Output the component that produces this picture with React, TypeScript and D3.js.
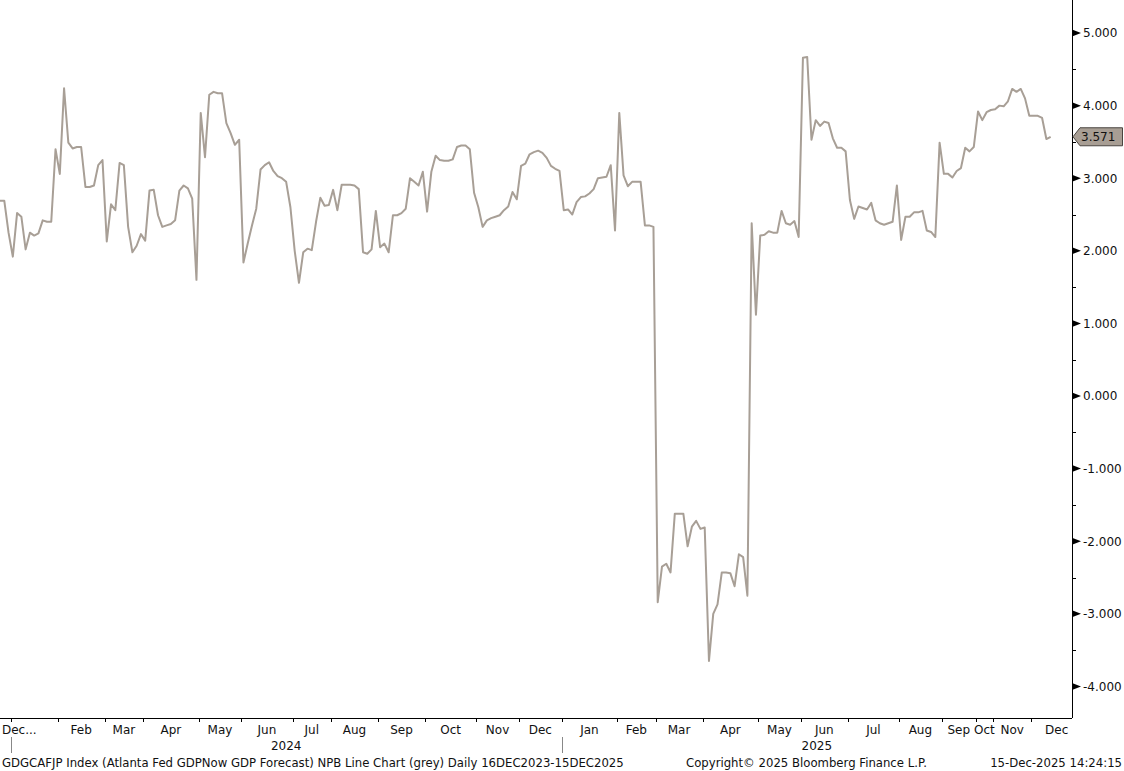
import React from "react";
import * as d3 from "d3";

const gdpNow = [
  2.69, 2.69, 2.25, 1.92, 2.52, 2.47, 2.02, 2.25, 2.21, 2.24,
  2.42, 2.4, 2.4, 3.4, 3.06, 4.24, 3.49, 3.41, 3.43, 3.43,
  2.88, 2.88, 2.9, 3.18, 3.25, 2.13, 2.64, 2.56, 3.21, 3.18,
  2.33, 1.98, 2.07, 2.23, 2.14, 2.83, 2.84, 2.49, 2.33, 2.35,
  2.37, 2.42, 2.83, 2.9, 2.86, 2.72, 1.6, 3.9, 3.29, 4.15,
  4.19, 4.17, 4.17, 3.76, 3.62, 3.46, 3.53, 1.84, 2.1, 2.35,
  2.58, 3.12, 3.18, 3.22, 3.1, 3.03, 3.0, 2.95, 2.6, 2.0,
  1.56, 1.98, 2.03, 2.01, 2.4, 2.73, 2.62, 2.63, 2.84, 2.56,
  2.91, 2.91, 2.91, 2.9, 2.85, 1.98, 1.96, 2.02, 2.55, 2.05,
  2.1, 1.98, 2.49, 2.49, 2.52, 2.58, 3.0, 2.95, 2.9, 3.09,
  2.54, 3.09, 3.31, 3.25, 3.24, 3.24, 3.26, 3.43, 3.45, 3.45,
  3.4, 2.8, 2.6, 2.33, 2.42, 2.45, 2.47, 2.49, 2.56, 2.61,
  2.81, 2.71, 3.17, 3.2, 3.33, 3.36, 3.38, 3.35, 3.28, 3.17,
  3.13, 3.1, 2.56, 2.57, 2.5, 2.67, 2.74, 2.75, 2.79, 2.85,
  3.0, 3.01, 3.02, 3.18, 2.28, 3.9, 3.04, 2.89, 2.95, 2.95,
  2.95, 2.35, 2.35, 2.33, -2.84, -2.35, -2.31, -2.43, -1.62, -1.62,
  -1.62, -2.07, -1.8, -1.72, -1.83, -1.81, -3.65, -3.0, -2.87, -2.43,
  -2.43, -2.44, -2.62, -2.18, -2.22, -2.75, 2.38, 1.12, 2.21, 2.22,
  2.27, 2.25, 2.25, 2.55, 2.38, 2.36, 2.41, 2.19, 4.66, 4.67,
  3.53, 3.8, 3.72, 3.78, 3.76, 3.55, 3.42, 3.42, 3.37, 2.7,
  2.44, 2.61, 2.59, 2.57, 2.66, 2.42, 2.38, 2.36, 2.38, 2.4,
  2.9, 2.15, 2.47, 2.47, 2.53, 2.53, 2.55, 2.28, 2.26, 2.19,
  3.49, 3.06, 3.06, 3.01, 3.1, 3.14, 3.42, 3.37, 3.43, 3.92,
  3.8, 3.91, 3.94, 3.95, 4.0, 3.99, 4.06, 4.23, 4.19, 4.23,
  4.1, 3.86, 3.86, 3.86, 3.83, 3.54, 3.571,
];

// first observation index of each month
const monthLabels = ["Dec...", "", "Feb", "Mar", "Apr", "May", "Jun", "Jul", "Aug", "Sep", "Oct", "Nov", "Dec",
  "Jan", "Feb", "Mar", "Apr", "May", "Jun", "Jul", "Aug", "Sep", "Oct", "Nov", "Dec"];
const monthStarts = [0, 3, 14, 25, 34, 47, 57, 69, 78, 89, 100, 112, 122,
  132, 145, 154, 165, 178, 188, 199, 211, 221, 229, 233, 242];

const yearLabels = ["2024", "2025"];
const yearStarts = [3, 132];

const yTicks = [5, 4, 3, 2, 1, 0, -1, -2, -3, -4];
const yMinor = [4.5, 3.5, 2.5, 1.5, 0.5, -0.5, -1.5, -2.5, -3.5];

const footerLeft = "GDGCAFJP Index (Atlanta Fed GDPNow GDP Forecast) NPB Line Chart (grey) Daily 16DEC2023-15DEC2025";
const footerMid = "Copyright\u00a9 2025 Bloomberg Finance L.P.";
const footerRight = "15-Dec-2025 14:24:15";

const W = 1124;
const H = 771;
const axisX = 1072;
const axisY = 718;
const slotCount = 251;

const lineColor = "#a89f96";
const font = "'DejaVu Sans', Verdana, sans-serif";

export default function App() {
  const x = d3.scaleLinear().domain([0, slotCount]).range([0, axisX]);
  const y = d3.scaleLinear().domain([-4.435, 5.455]).range([axisY, 0]);
  const fmt = (v: number) => d3.format(".3f")(v).replace("\u2212", "-");

  const line = d3.line<number>()
    .x((_, i) => x(i))
    .y(d => y(d));

  const last = gdpNow[gdpNow.length - 1];
  const ly = y(last);

  const tickX = (s: number) => x(s - 0.5);

  return (
    <svg width={W} height={H} style={{ position: "absolute", left: 0, top: 0, background: "#fff" }}
      fontFamily={font}>
      <rect x={0} y={0} width={W} height={H} fill="#fff" />

      <path d={line(gdpNow) || ""} fill="none" stroke={lineColor} strokeWidth={2} strokeLinejoin="round" />

      {/* right axis */}
      <line x1={axisX + 0.5} x2={axisX + 0.5} y1={0} y2={axisY} stroke="#000" strokeWidth={1} />
      {yMinor.map(v => (
        <line key={"m" + v} x1={axisX} x2={axisX + 4} y1={Math.round(y(v)) + 0.5} y2={Math.round(y(v)) + 0.5}
          stroke="#000" strokeWidth={1} />
      ))}
      {yTicks.map(v => (
        <g key={"t" + v} transform={`translate(0,${y(v)})`}>
          <path d={`M${axisX},-3.5L${axisX + 9},0L${axisX},3.5Z`} fill="#000" />
          <text x={axisX + 11} dy="0.36em" fontSize={12} fill="#111">{fmt(v)}</text>
        </g>
      ))}

      {/* last value callout */}
      <path d={`M${axisX + 1},${ly}L${axisX + 8},${ly - 9}L${W - 1.5},${ly - 9}L${W - 1.5},${ly + 9}L${axisX + 8},${ly + 9}Z`}
        fill="#a89e94" stroke="#4a4540" strokeWidth={1} />
      <text x={axisX + 9} y={ly} dy="0.36em" fontSize={12} fill="#111">{fmt(last)}</text>

      {/* bottom axis */}
      <line x1={0} x2={axisX} y1={axisY + 0.5} y2={axisY + 0.5} stroke="#000" strokeWidth={1} />
      {monthStarts.map((s, i) => {
        if (s === 0) return null;
        const tx = Math.round(tickX(s)) + 0.5;
        return <line key={"mt" + i} x1={tx} x2={tx} y1={axisY} y2={axisY + 4} stroke="#000" />;
      })}
      {monthLabels.map((lab, i) => {
        if (!lab) return null;
        if (i === 0) {
          return <text key={"ml" + i} x={2} y={734} fontSize={12} fill="#111">{lab}</text>;
        }
        const a = tickX(monthStarts[i]);
        const b = i + 1 < monthStarts.length ? tickX(monthStarts[i + 1]) : axisX + 10;
        return (
          <text key={"ml" + i} x={(a + b) / 2} y={734} fontSize={12} fill="#111" textAnchor="middle">{lab}</text>
        );
      })}
      {yearLabels.map((lab, i) => {
        const a = tickX(yearStarts[i]);
        const b = i + 1 < yearStarts.length ? tickX(yearStarts[i + 1]) : axisX;
        const sx = Math.round(a) + 0.5;
        return (
          <g key={"y" + lab}>
            <line x1={sx} x2={sx} y1={737} y2={753} stroke="#888" />
            <text x={(a + b) / 2} y={750} fontSize={12} fill="#111" textAnchor="middle">{lab}</text>
          </g>
        );
      })}

      {/* footer */}
      <text x={2} y={767} fontSize={11.7} fill="#111">{footerLeft}</text>
      <text x={686} y={767} fontSize={11.7} fill="#111">{footerMid}</text>
      <text x={W - 2} y={767} fontSize={11.7} fill="#111" textAnchor="end">{footerRight}</text>
    </svg>
  );
}
